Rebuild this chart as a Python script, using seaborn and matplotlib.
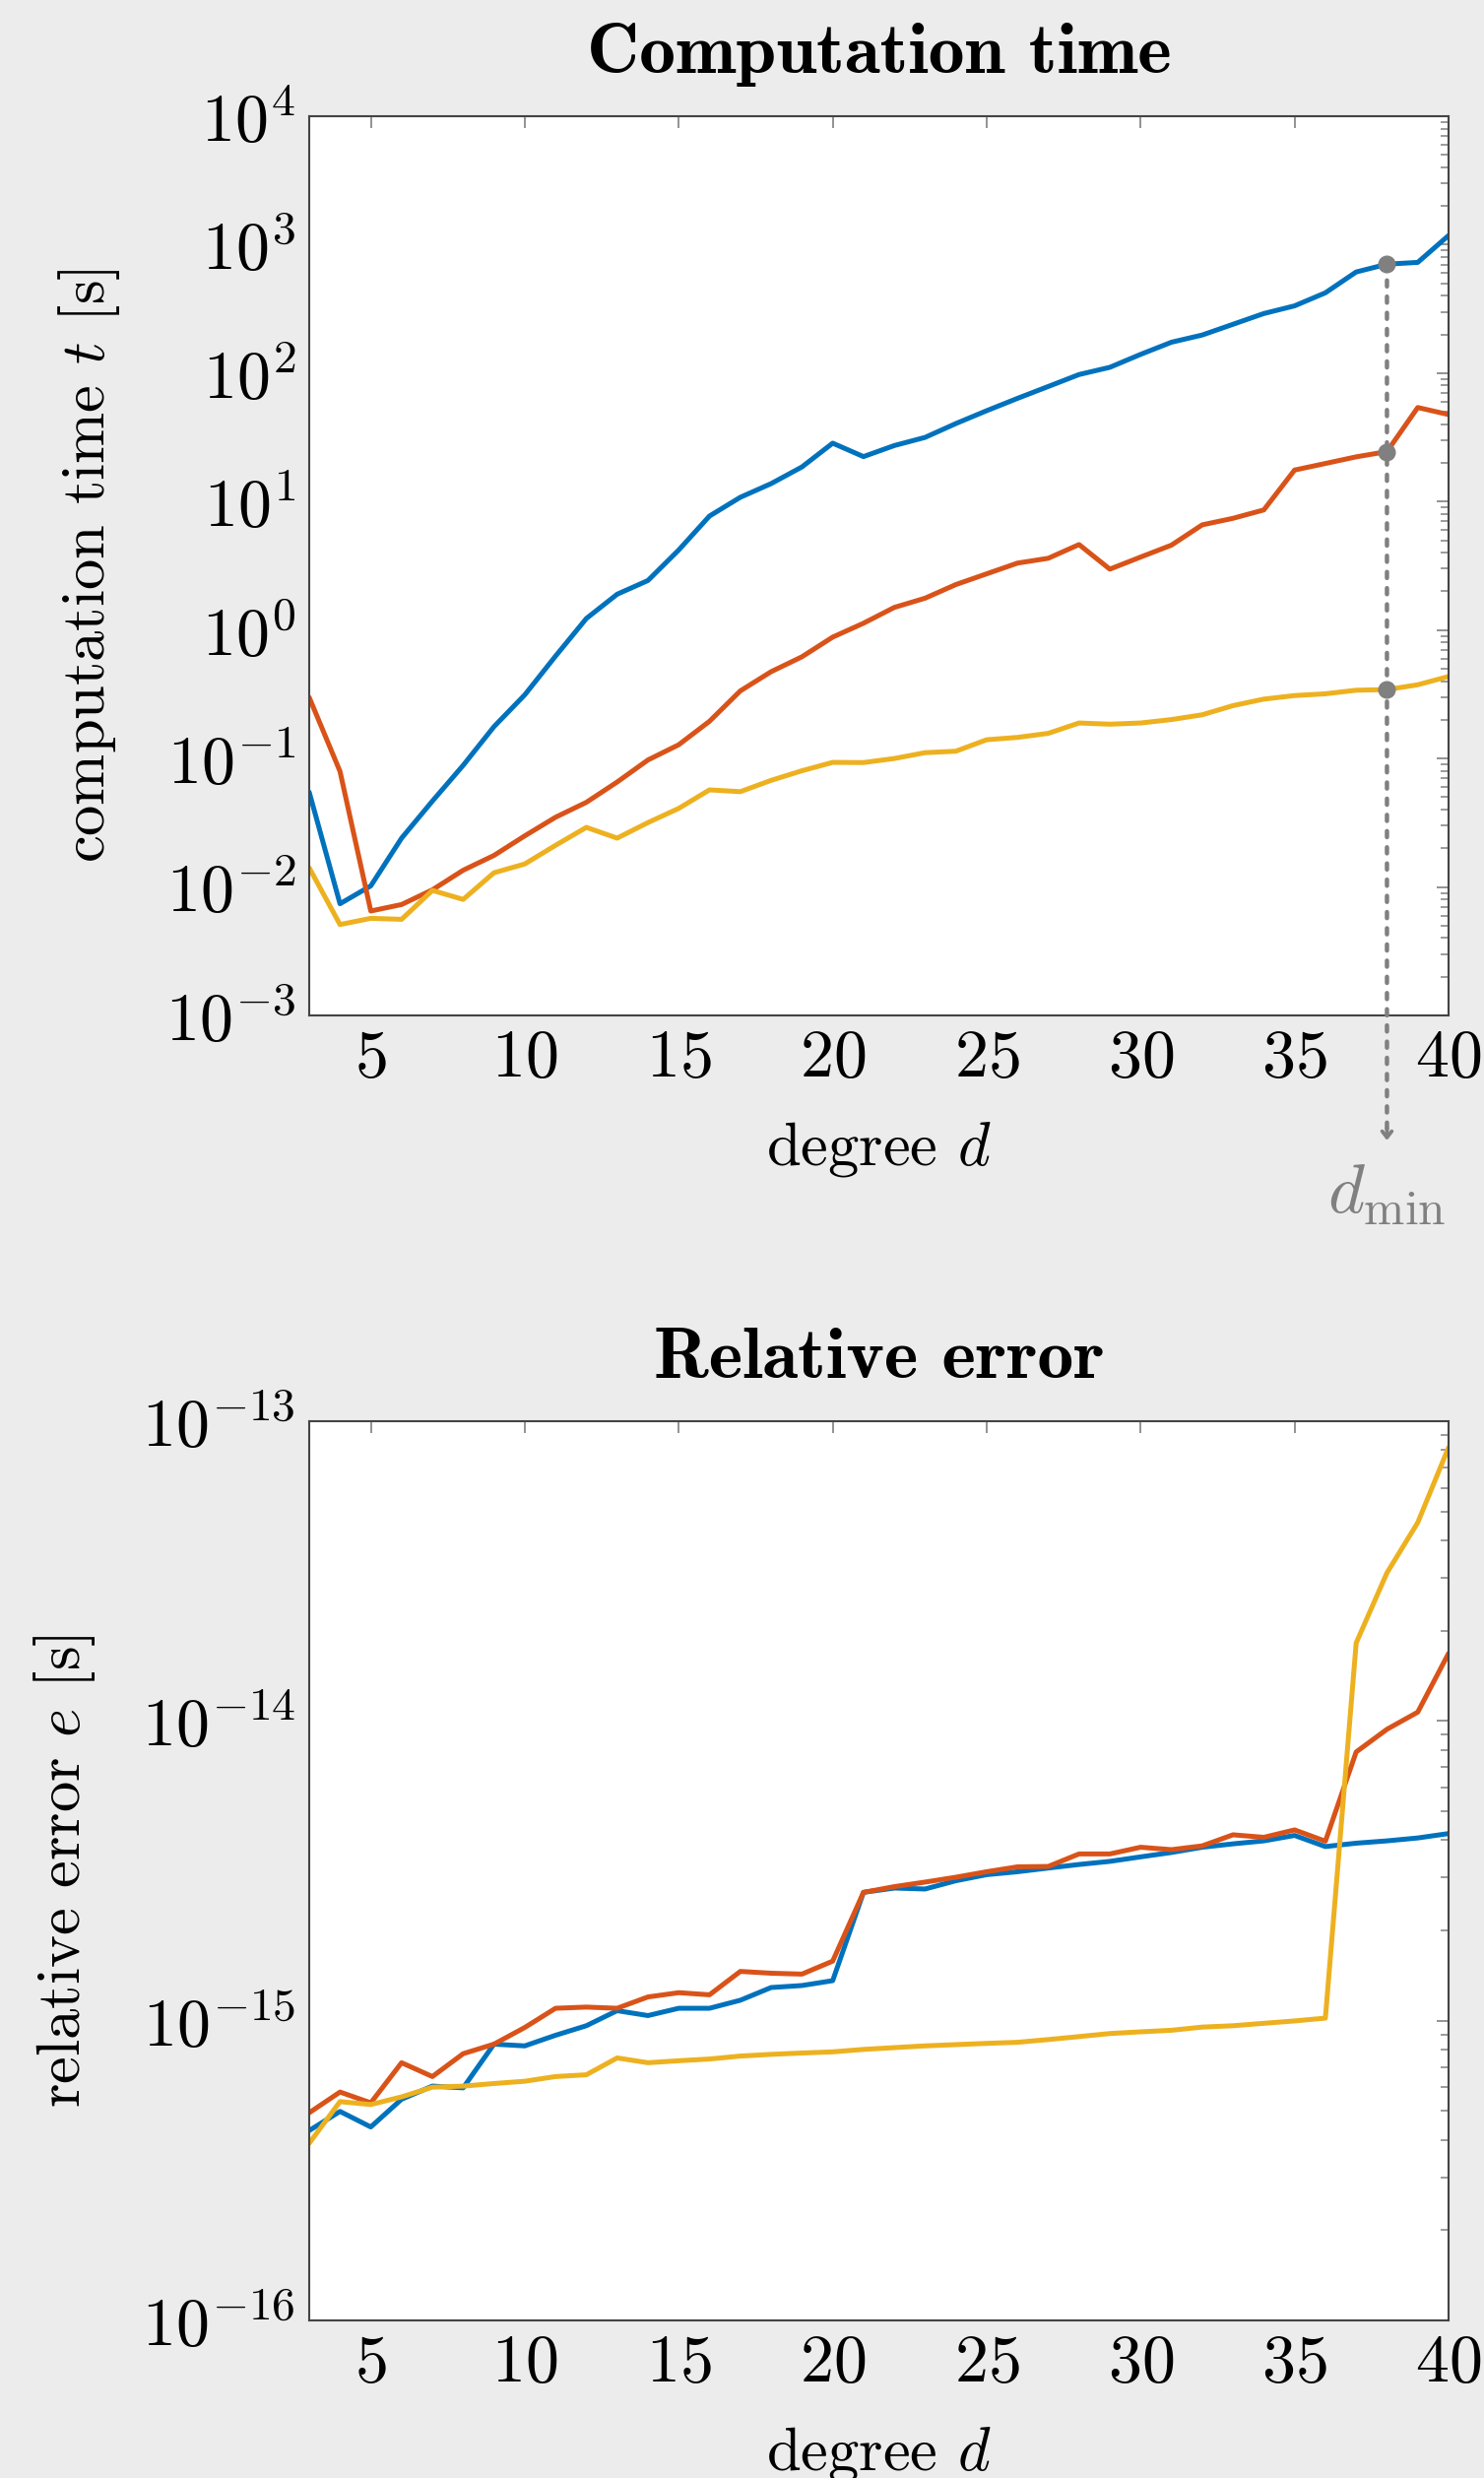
import numpy as np
import pandas as pd
import matplotlib
matplotlib.use("Agg")
import matplotlib.pyplot as plt
from matplotlib import ticker
import seaborn as sns

# ---------------- data ----------------
degree = list(range(3, 41))

time_blue = [0.0547, 0.0074, 0.0102, 0.024, 0.0466, 0.0885, 0.177, 0.313, 0.627, 1.23,
             1.90, 2.43, 4.20, 7.72, 10.8, 13.8, 18.6, 28.5, 22.4, 27.3,
             31.6, 40.5, 51, 63.6, 78.7, 97.5, 111, 140, 174, 198,
             240, 291, 334, 422, 613, 705, 728, 1178]
time_red = [0.299, 0.0794, 0.0065, 0.0073, 0.0095, 0.0135, 0.0176, 0.0250, 0.0349, 0.0456,
            0.0656, 0.0974, 0.128, 0.195, 0.336, 0.474, 0.619, 0.881, 1.13, 1.50,
            1.77, 2.26, 2.74, 3.32, 3.62, 4.63, 2.98, 3.70, 4.58, 6.59,
            7.41, 8.61, 17.6, 19.8, 22.3, 24.5, 54, 47.6]
time_yellow = [0.0141, 0.0051, 0.0057, 0.0056, 0.0094, 0.0080, 0.0129, 0.0151, 0.0211, 0.0291,
               0.0240, 0.0317, 0.0409, 0.0570, 0.0552, 0.0676, 0.0803, 0.0933, 0.093, 0.100,
               0.111, 0.114, 0.140, 0.146, 0.157, 0.189, 0.185, 0.189, 0.201, 0.219,
               0.258, 0.290, 0.309, 0.319, 0.340, 0.344, 0.375, 0.435]

err_blue = [4.30e-16, 4.98e-16, 4.42e-16, 5.47e-16, 6.05e-16, 5.97e-16, 8.35e-16, 8.24e-16, 8.94e-16, 9.62e-16,
            1.08e-15, 1.04e-15, 1.10e-15, 1.10e-15, 1.17e-15, 1.29e-15, 1.31e-15, 1.36e-15, 2.68e-15, 2.77e-15,
            2.75e-15, 2.93e-15, 3.07e-15, 3.14e-15, 3.23e-15, 3.32e-15, 3.40e-15, 3.52e-15, 3.64e-15, 3.79e-15,
            3.89e-15, 3.98e-15, 4.15e-15, 3.81e-15, 3.91e-15, 3.98e-15, 4.07e-15, 4.21e-15]
err_red = [4.93e-16, 5.78e-16, 5.32e-16, 7.24e-16, 6.51e-16, 7.76e-16, 8.35e-16, 9.49e-16, 1.10e-15, 1.11e-15,
           1.10e-15, 1.20e-15, 1.24e-15, 1.22e-15, 1.46e-15, 1.44e-15, 1.43e-15, 1.58e-15, 2.68e-15, 2.80e-15,
           2.90e-15, 3.01e-15, 3.14e-15, 3.26e-15, 3.27e-15, 3.60e-15, 3.60e-15, 3.79e-15, 3.72e-15, 3.83e-15,
           4.17e-15, 4.09e-15, 4.33e-15, 3.97e-15, 7.88e-15, 9.38e-15, 1.07e-14, 1.68e-14]
err_yellow = [3.90e-16, 5.37e-16, 5.25e-16, 5.57e-16, 6.00e-16, 6.05e-16, 6.17e-16, 6.28e-16, 6.51e-16, 6.60e-16,
              7.51e-16, 7.24e-16, 7.35e-16, 7.45e-16, 7.62e-16, 7.72e-16, 7.80e-16, 7.87e-16, 8.02e-16, 8.13e-16,
              8.24e-16, 8.32e-16, 8.40e-16, 8.47e-16, 8.65e-16, 8.85e-16, 9.06e-16, 9.18e-16, 9.29e-16, 9.52e-16,
              9.62e-16, 9.80e-16, 9.98e-16, 1.02e-15, 1.82e-14, 3.12e-14, 4.59e-14, 8.17e-14]

series_names = ["method 1", "method 2", "method 3"]
colors = ["#0072BD", "#D95319", "#EDB120"]
d_min = 38

x_ticks = [5, 10, 15, 20, 25, 30, 35, 40]

# ---------------- style ----------------
sns.set_style("white")
plt.rcParams.update({
    "font.family": "cmr10",
    "mathtext.fontset": "cm",
    "axes.formatter.use_mathtext": True,
    "axes.unicode_minus": True,
    "figure.facecolor": "#ECECEC",
    "axes.facecolor": "white",
    "text.color": "black",
    "axes.labelcolor": "black",
    "axes.titlecolor": "black",
})

FS_TICK = 49
FS_LABEL = 45
FS_TITLE = 53
GRAY = "#808080"
SPINE = "#444444"

df_time = pd.DataFrame({
    "d": degree * 3,
    "value": time_blue + time_red + time_yellow,
    "method": sum([[n] * len(degree) for n in series_names], []),
})
df_err = pd.DataFrame({
    "d": degree * 3,
    "value": err_blue + err_red + err_yellow,
    "method": sum([[n] * len(degree) for n in series_names], []),
})
palette = dict(zip(series_names, colors))

fig = plt.figure(figsize=(15.07, 25.16), dpi=100)
ax1 = fig.add_axes([314 / 1507, 1 - 1031 / 2516, 1157 / 1507, 913 / 2516])
ax2 = fig.add_axes([314 / 1507, 1 - 2356 / 2516, 1157 / 1507, 913 / 2516])


def style_axes(ax, ylo, yhi, ylabel, title, ylabelpad):
    ax.set_yscale("log")
    ax.set_xlim(3, 40)
    ax.set_ylim(ylo, yhi)
    ax.set_xticks(x_ticks)
    ax.yaxis.set_major_locator(ticker.LogLocator(base=10, numticks=20))
    ax.yaxis.set_minor_locator(ticker.LogLocator(base=10, subs=np.arange(2, 10), numticks=20))
    ax.yaxis.set_minor_formatter(ticker.NullFormatter())
    ax.tick_params(which="both", direction="in", top=True, right=True, colors=GRAY,
                   labelcolor="black", labelsize=FS_TICK)
    ax.tick_params(which="major", length=8.5, width=1.2)
    ax.tick_params(which="minor", length=5.5, width=1.1)
    ax.tick_params(axis="x", pad=10)
    ax.tick_params(axis="y", pad=10)
    for s in ax.spines.values():
        s.set_color(SPINE)
        s.set_linewidth(1.5)
    ax.set_xlabel(r"degree $d$", fontsize=FS_LABEL, labelpad=22)
    ax.set_ylabel(ylabel, fontsize=FS_LABEL, labelpad=ylabelpad)
    ax.set_title(title, fontsize=FS_TITLE, fontfamily="cmb10", pad=32)


sns.lineplot(data=df_time, x="d", y="value", hue="method", palette=palette,
             linewidth=3.6, ax=ax1, legend=False)
sns.lineplot(data=df_err, x="d", y="value", hue="method", palette=palette,
             linewidth=3.6, ax=ax2, legend=False)

style_axes(ax1, 1e-3, 1e4, r"computation time $t$ [s]", "Computation time", 32)
style_axes(ax2, 1e-16, 1e-13, r"relative error $e$ [s]", "Relative error", 32)

# d_min annotation
idx = degree.index(d_min)
vals = [time_blue[idx], time_red[idx], time_yellow[idx]]
ax1.annotate("", xy=(d_min, -0.128), xycoords=("data", "axes fraction"),
             xytext=(d_min, vals[0]), textcoords="data",
             arrowprops=dict(arrowstyle="-", linestyle=(0, (1.4, 2.3)), lw=3.2,
                             color=GRAY, shrinkA=0, shrinkB=0),
             annotation_clip=False)
ax1.annotate("", xy=(d_min, -0.139), xycoords=("data", "axes fraction"),
             xytext=(d_min, -0.125), textcoords=("data", "axes fraction"),
             arrowprops=dict(arrowstyle="->,head_length=0.45,head_width=0.35", lw=2.7,
                             color=GRAY, shrinkA=0, shrinkB=0),
             annotation_clip=False)
ax1.plot([d_min] * 3, vals, linestyle="none", marker="o", markersize=12,
         color=GRAY, zorder=5)
ax1.text(d_min, -0.20, r"$d_{\min}$", transform=ax1.get_xaxis_transform(),
         ha="center", va="center", fontsize=51, color=GRAY)

fig.savefig("out.png", dpi=100, facecolor=fig.get_facecolor())
